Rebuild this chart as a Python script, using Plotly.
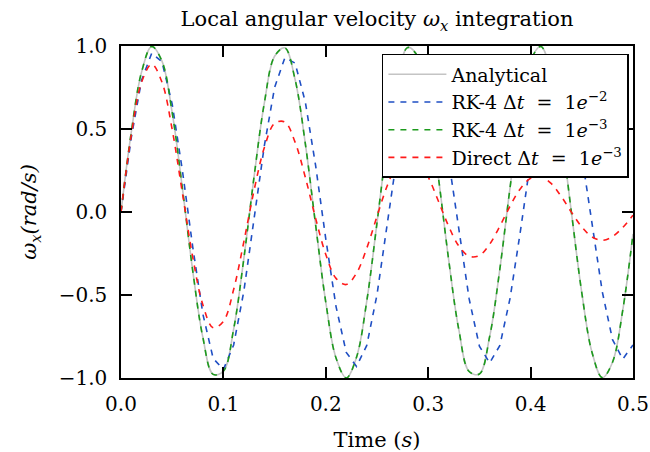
import plotly.graph_objects as go

# time samples (s)
t = [round(0.01 * k, 2) for k in range(51)]

analytical = [0.000, 0.479, 0.841, 0.997, 0.909, 0.598, 0.141, -0.351, -0.757, -0.978,
              -0.959, -0.706, -0.279, 0.215, 0.657, 0.938, 0.989, 0.798, 0.412, -0.075,
              -0.544, -0.880, -1.000, -0.875, -0.537, -0.066, 0.420, 0.804, 0.991, 0.935,
              0.650, 0.207, -0.288, -0.712, -0.961, -0.976, -0.751, -0.342, 0.150, 0.605,
              0.913, 0.997, 0.837, 0.472, -0.009, -0.487, -0.846, -0.998, -0.905, -0.591,
              -0.132]

rk4_coarse = [0.000, 0.447, 0.792, 0.957, 0.905, 0.650, 0.248, -0.208, -0.616, -0.882,
              -0.949, -0.801, -0.476, -0.041, 0.400, 0.750, 0.929, 0.897, 0.663, 0.282,
              -0.163, -0.570, -0.846, -0.930, -0.804, -0.498, -0.080, 0.354, 0.707, 0.899,
              0.888, 0.675, 0.313, -0.120, -0.524, -0.808, -0.909, -0.804, -0.518, -0.117,
              0.310, 0.664, 0.868, 0.876, 0.685, 0.341, -0.079, -0.480, -0.769, -0.886,
              -0.801]

rk4_fine = [0.000, 0.479, 0.841, 0.997, 0.909, 0.598, 0.141, -0.351, -0.757, -0.978,
            -0.959, -0.706, -0.279, 0.215, 0.657, 0.938, 0.989, 0.798, 0.412, -0.075,
            -0.544, -0.880, -1.000, -0.875, -0.537, -0.066, 0.420, 0.804, 0.991, 0.935,
            0.650, 0.207, -0.288, -0.712, -0.961, -0.976, -0.751, -0.342, 0.150, 0.605,
            0.913, 0.997, 0.837, 0.472, -0.009, -0.487, -0.846, -0.998, -0.905, -0.591,
            -0.132]

direct = [0.000, 0.461, 0.780, 0.890, 0.782, 0.496, 0.113, -0.270, -0.560, -0.697,
          -0.659, -0.467, -0.178, 0.132, 0.388, 0.534, 0.542, 0.421, 0.209, -0.037,
          -0.256, -0.400, -0.437, -0.368, -0.218, -0.026, 0.158, 0.291, 0.346, 0.314,
          0.211, 0.065, -0.086, -0.206, -0.267, -0.262, -0.194, -0.085, 0.036, 0.140,
          0.203, 0.213, 0.172, 0.093, -0.002, -0.090, -0.150, -0.171, -0.148, -0.093,
          -0.020]

SP = "\u00a0"
names = ["Analytical",
         f"RK-4 Δ<i>t</i>{SP} ={SP} 1<i>e</i><sup>−2</sup>",
         f"RK-4 Δ<i>t</i>{SP} ={SP} 1<i>e</i><sup>−3</sup>",
         f"Direct Δ<i>t</i>{SP} ={SP} 1<i>e</i><sup>−3</sup>"]

xticks = [0.0, 0.1, 0.2, 0.3, 0.4, 0.5]
xticktext = ["0.0", "0.1", "0.2", "0.3", "0.4", "0.5"]
yticks = [-1.0, -0.5, 0.0, 0.5, 1.0]
yticktext = ["−1.0", "−0.5", "0.0", "0.5", "1.0"]

FONT = "DejaVu Serif"
dash = "6px,6px"

fig = go.Figure()
fig.add_trace(go.Scatter(x=t, y=analytical, mode="lines", name=names[0],
                         line=dict(color="#c4c4c4", width=1.6, shape="spline", smoothing=1.0)))
fig.add_trace(go.Scatter(x=t, y=rk4_coarse, mode="lines", name=names[1],
                         line=dict(color="#1f4fc4", width=1.6, dash=dash)))
fig.add_trace(go.Scatter(x=t, y=rk4_fine, mode="lines", name=names[2],
                         line=dict(color="#1c9a1c", width=1.6, dash=dash, shape="spline", smoothing=1.0)))
fig.add_trace(go.Scatter(x=t, y=direct, mode="lines", name=names[3],
                         line=dict(color="#ff1a1a", width=1.6, dash=dash, shape="spline", smoothing=1.0)))

axis_common = dict(showline=True, linecolor="black", linewidth=1.5, mirror="ticks",
                   ticks="inside", ticklen=11, tickwidth=1.5, tickcolor="black",
                   showgrid=False, zeroline=False,
                   tickfont=dict(family=FONT, size=20, color="black"))

fig.update_xaxes(range=[0, 0.5], tickvals=xticks, ticktext=xticktext,
                 ticklabelstandoff=7,
                 title=dict(text="Time (<i>s</i>)", font=dict(family=FONT, size=21, color="black"),
                            standoff=18),
                 **axis_common)
fig.update_yaxes(range=[-1, 1], tickvals=yticks, ticktext=yticktext,
                 ticklabelstandoff=8,
                 title=dict(text="<i>ω<sub>x</sub>(rad/s)</i>", font=dict(family=FONT, size=21, color="black"),
                            standoff=16),
                 **axis_common)

fig.update_layout(
    width=650, height=452,
    margin=dict(l=121, r=17, t=46, b=74, autoexpand=False),
    paper_bgcolor="white", plot_bgcolor="white",
    title=dict(text="Local angular velocity <i>ω<sub>x</sub></i> integration",
               font=dict(family=FONT, size=21, color="black"),
               x=0.5, xref="paper", xanchor="center", y=0.958, yanchor="middle"),
    legend=dict(x=0.992, y=0.976, xanchor="right", yanchor="top",
                bgcolor="white", bordercolor="black", borderwidth=1.5,
                font=dict(family=FONT, size=19, color="black"),
                itemwidth=58, tracegroupgap=0),
    showlegend=True,
)

fig.write_html("out.html")
